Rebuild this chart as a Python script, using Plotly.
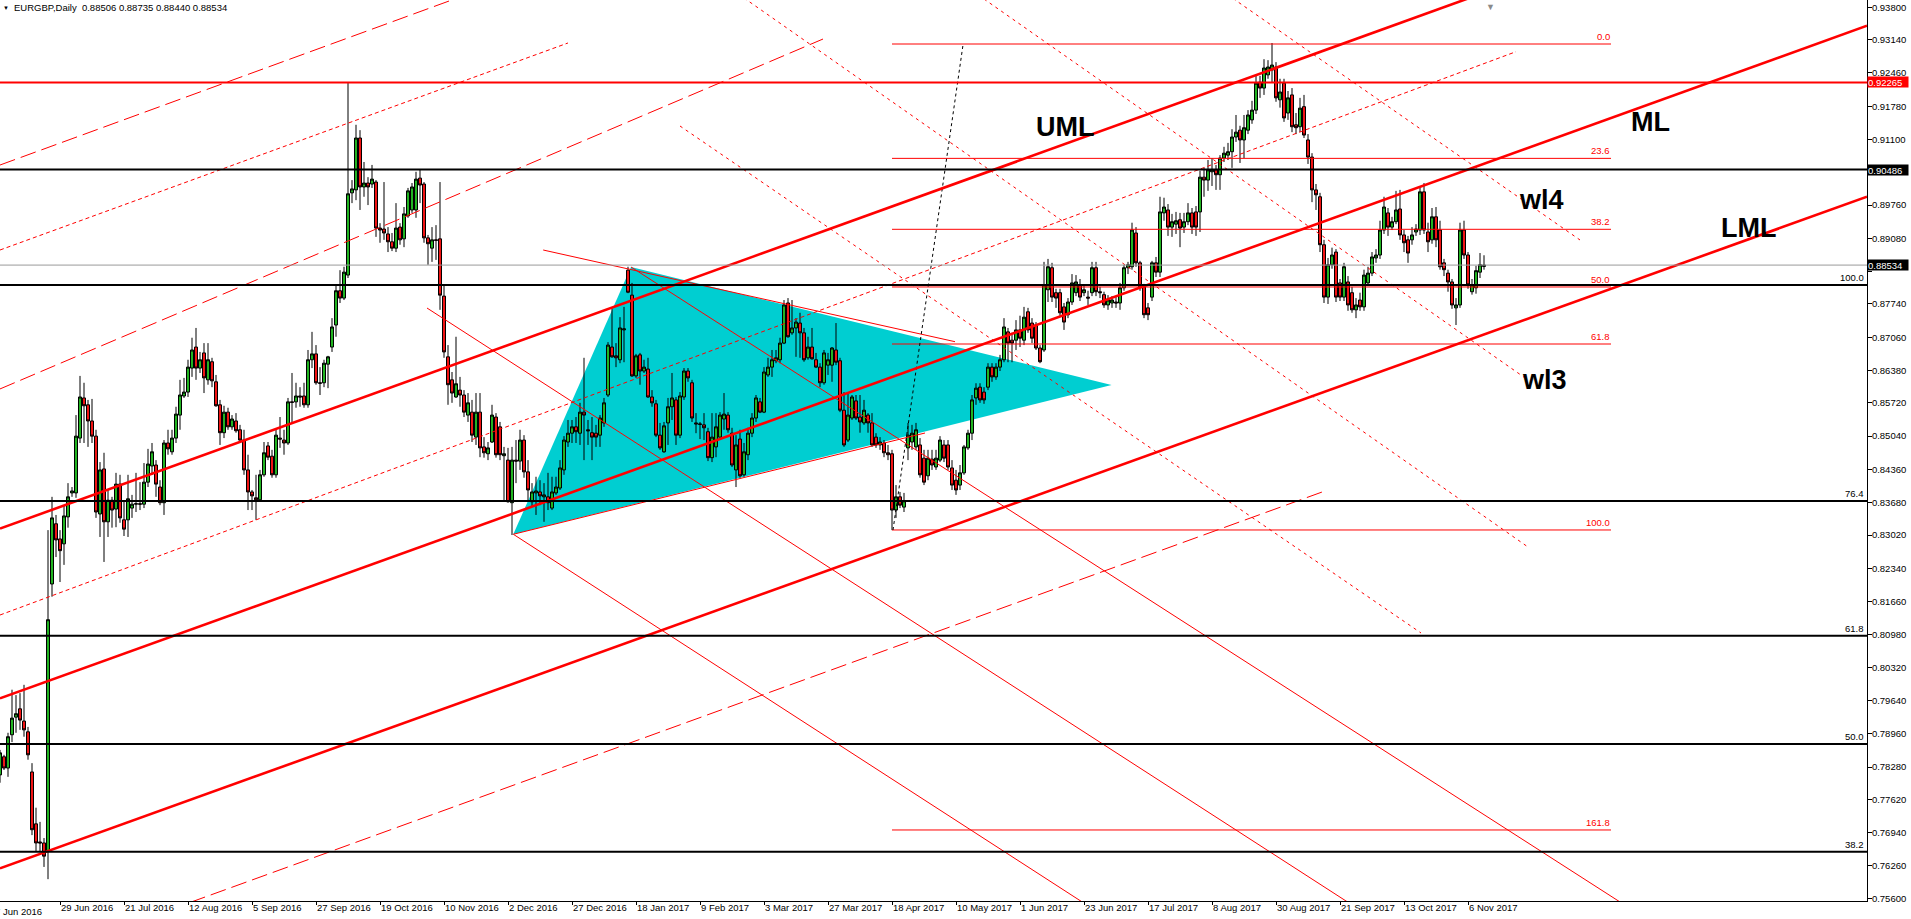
import plotly.graph_objects as go

# ---------------- candle data (EURGBP daily) ----------------
opens = [0.7812,0.7849,0.7826,0.7894,0.7930,0.7947,0.7922,0.7900,0.7818,0.7712,
 0.7675,0.7673,0.7657,0.8202,0.8325,0.8294,0.8284,0.8339,0.8388,0.8388,
 0.8500,0.8582,0.8568,0.8535,0.8504,0.8345,0.8437,0.8329,0.8373,0.8355,
 0.8406,0.8333,0.8333,0.8357,0.8365,0.8366,0.8365,0.8410,0.8443,0.8445,
 0.8400,0.8368,0.8490,0.8472,0.8500,0.8547,0.8586,0.8594,0.8643,0.8686,
 0.8643,0.8674,0.8619,0.8656,0.8615,0.8568,0.8511,0.8553,0.8523,0.8535,
 0.8517,0.8496,0.8435,0.8390,0.8378,0.8374,0.8425,0.8484,0.8463,0.8425,
 0.8500,0.8496,0.8490,0.8574,0.8574,0.8586,0.8586,0.8568,0.8660,0.8672,
 0.8613,0.8613,0.8651,0.8686,0.8731,0.8801,0.8786,0.8833,0.9001,0.9007,
 0.9113,0.9013,0.9021,0.9019,0.9023,0.8929,0.8927,0.8917,0.8901,0.8888,
 0.8931,0.8907,0.8954,0.8966,0.8966,0.9031,0.9019,0.8909,0.8888,0.8905,
 0.8907,0.8790,0.8666,0.8619,0.8584,0.8598,0.8588,0.8547,0.8553,0.8502,
 0.8553,0.8482,0.8468,0.8492,0.8543,0.8523,0.8464,0.8455,0.8368,0.8455,
 0.8453,0.8496,0.8431,0.8370,0.8388,0.8390,0.8380,0.8380,0.8357,0.8388,
 0.8398,0.8435,0.8492,0.8510,0.8523,0.8510,0.8553,0.8517,0.8511,0.8510,
 0.8506,0.8531,0.8588,0.8686,0.8668,0.8660,0.8721,0.8843,0.8792,0.8627,
 0.8670,0.8637,0.8641,0.8584,0.8570,0.8506,0.8472,0.8531,0.8564,0.8578,
 0.8506,0.8584,0.8637,0.8613,0.8531,0.8529,0.8527,0.8513,0.8460,0.8482,
 0.8502,0.8539,0.8547,0.8510,0.8435,0.8498,0.8425,0.8466,0.8510,0.8541,
 0.8574,0.8553,0.8629,0.8645,0.8658,0.8660,0.8694,0.8776,0.8715,0.8725,
 0.8735,0.8715,0.8664,0.8686,0.8660,0.8645,0.8613,0.8649,0.8649,0.8680,
 0.8658,0.8557,0.8496,0.8541,0.8576,0.8543,0.8531,0.8547,0.8531,0.8502,
 0.8486,0.8490,0.8470,0.8468,0.8353,0.8380,0.8359,0.8480,0.8492,0.8482,
 0.8486,0.8459,0.8423,0.8457,0.8441,0.8455,0.8486,0.8486,0.8439,0.8414,
 0.8404,0.8429,0.8480,0.8510,0.8582,0.8604,0.8594,0.8604,0.8645,0.8625,
 0.8645,0.8660,0.8717,0.8700,0.8700,0.8721,0.8700,0.8758,0.8735,0.8731,
 0.8684,0.8680,0.8803,0.8848,0.8797,0.8797,0.8768,0.8752,0.8778,0.8797,
 0.8813,0.8797,0.8788,0.8797,0.8848,0.8799,0.8793,0.8772,0.8776,0.8778,
 0.8776,0.8807,0.8848,0.8850,0.8919,0.8858,0.8809,0.8766,0.8788,0.8858,
 0.8839,0.8960,0.8966,0.8931,0.8937,0.8946,0.8931,0.8942,0.8960,0.8962,
 0.8962,0.9033,0.9027,0.9044,0.9048,0.9038,0.9072,0.9078,0.9085,0.9115,
 0.9129,0.9109,0.9129,0.9150,0.9170,0.9227,0.9215,0.9242,0.9252,0.9258,
 0.9191,0.9225,0.9164,0.9201,0.9140,0.9136,0.9177,0.9109,0.9074,0.9007,
 0.8993,0.8895,0.8788,0.8854,0.8880,0.8817,0.8788,0.8819,0.8797,0.8762,
 0.8782,0.8768,0.8817,0.8837,0.8868,0.8874,0.8925,0.8960,0.8931,0.8942,
 0.8968,0.8915,0.8905,0.8905,0.8921,0.8925,0.9003,0.8921,0.8905,0.8952,
 0.8925,0.8858,0.8837,0.8819,0.8766,0.8772,0.8925,0.8874,0.8799,0.8807,
 0.8839,0.88506]

highs = [0.7863,0.7853,0.7898,0.7986,0.7975,0.7979,0.7996,0.7910,0.7836,0.7745,
 0.7716,0.7683,0.8312,0.8380,0.8343,0.8312,0.8363,0.8408,0.8400,0.8547,
 0.8627,0.8613,0.8578,0.8580,0.8517,0.8451,0.8470,0.8394,0.8380,0.8429,
 0.8425,0.8373,0.8425,0.8384,0.8429,0.8410,0.8449,0.8478,0.8490,0.8455,
 0.8414,0.8496,0.8517,0.8517,0.8564,0.8619,0.8623,0.8660,0.8705,0.8725,
 0.8676,0.8694,0.8694,0.8664,0.8629,0.8578,0.8566,0.8562,0.8547,0.8551,
 0.8527,0.8517,0.8466,0.8394,0.8425,0.8435,0.8492,0.8492,0.8476,0.8517,
 0.8543,0.8517,0.8582,0.8633,0.8613,0.8604,0.8613,0.8680,0.8717,0.8690,
 0.8645,0.8660,0.8668,0.8745,0.8813,0.8843,0.8850,0.9227,0.9027,0.9140,
 0.9129,0.9064,0.9033,0.9058,0.9027,0.8939,0.9023,0.8931,0.8919,0.8980,
 0.8939,0.8972,0.9011,0.9021,0.9044,0.9048,0.9023,0.8915,0.8931,0.8935,
 0.9023,0.8813,0.8690,0.8635,0.8707,0.8625,0.8598,0.8592,0.8578,0.8592,
 0.8592,0.8502,0.8492,0.8568,0.8551,0.8533,0.8482,0.8480,0.8482,0.8496,
 0.8517,0.8506,0.8455,0.8408,0.8421,0.8414,0.8408,0.8429,0.8421,0.8421,
 0.8455,0.8504,0.8537,0.8537,0.8543,0.8572,0.8664,0.8537,0.8543,0.8527,
 0.8547,0.8582,0.8696,0.8766,0.8694,0.8747,0.8768,0.8850,0.8817,0.8672,
 0.8674,0.8660,0.8664,0.8598,0.8578,0.8531,0.8533,0.8582,0.8633,0.8584,
 0.8594,0.8643,0.8643,0.8619,0.8551,0.8533,0.8551,0.8521,0.8551,0.8551,
 0.8553,0.8592,0.8553,0.8521,0.8506,0.8517,0.8490,0.8521,0.8551,0.8588,
 0.8582,0.8645,0.8664,0.8680,0.8680,0.8705,0.8782,0.8786,0.8782,0.8745,
 0.8756,0.8725,0.8707,0.8725,0.8674,0.8653,0.8680,0.8674,0.8686,0.8735,
 0.8664,0.8594,0.8592,0.8588,0.8588,0.8588,0.8578,0.8551,0.8551,0.8510,
 0.8502,0.8496,0.8486,0.8476,0.8404,0.8390,0.8388,0.8531,0.8527,0.8531,
 0.8500,0.8476,0.8476,0.8476,0.8476,0.8504,0.8496,0.8496,0.8455,0.8435,
 0.8445,0.8486,0.8517,0.8588,0.8612,0.8612,0.8604,0.8653,0.8653,0.8653,
 0.8670,0.8745,0.8725,0.8715,0.8741,0.8750,0.8768,0.8766,0.8745,0.8737,
 0.8690,0.8860,0.8866,0.8858,0.8805,0.8805,0.8776,0.8786,0.8835,0.8833,
 0.8825,0.8813,0.8801,0.8860,0.8860,0.8809,0.8799,0.8792,0.8790,0.8788,
 0.8817,0.8854,0.8860,0.8940,0.8931,0.8862,0.8815,0.8776,0.8862,0.8870,
 0.8993,0.8991,0.8978,0.8958,0.8962,0.8960,0.8960,0.8980,0.8970,0.8974,
 0.9046,0.9052,0.9068,0.9072,0.9058,0.9078,0.9095,0.9103,0.9131,0.9160,
 0.9138,0.9160,0.9170,0.9189,0.9240,0.9240,0.9274,0.9272,0.9307,0.9268,
 0.9234,0.9234,0.9209,0.9215,0.9164,0.9195,0.9201,0.9121,0.9082,0.9019,
 0.9001,0.8905,0.8868,0.8889,0.8886,0.8825,0.8858,0.8831,0.8809,0.8786,
 0.8797,0.8844,0.8850,0.8880,0.8886,0.8944,0.8993,0.8970,0.8952,0.9005,
 0.9007,0.8925,0.8913,0.8931,0.8937,0.9011,0.9021,0.8940,0.8970,0.8972,
 0.8944,0.8866,0.8844,0.8825,0.8786,0.8940,0.8944,0.8880,0.8825,0.8852,
 0.8878,0.88735]

lows = [0.7796,0.7822,0.7808,0.7879,0.7898,0.7904,0.7890,0.7843,0.7689,0.7655,
 0.7655,0.7624,0.7599,0.8176,0.8257,0.8206,0.8241,0.8317,0.8380,0.8378,
 0.8490,0.8490,0.8482,0.8490,0.8337,0.8298,0.8247,0.8298,0.8317,0.8318,
 0.8327,0.8300,0.8298,0.8337,0.8349,0.8353,0.8357,0.8400,0.8425,0.8380,
 0.8363,0.8343,0.8466,0.8466,0.8490,0.8517,0.8582,0.8584,0.8625,0.8619,
 0.8633,0.8592,0.8609,0.8604,0.8564,0.8486,0.8500,0.8517,0.8517,0.8511,
 0.8490,0.8425,0.8353,0.8353,0.8333,0.8370,0.8421,0.8455,0.8419,0.8419,
 0.8480,0.8466,0.8486,0.8531,0.8562,0.8564,0.8562,0.8562,0.8643,0.8609,
 0.8588,0.8604,0.8602,0.8676,0.8707,0.8776,0.8782,0.8827,0.8980,0.8986,
 0.8966,0.8993,0.8976,0.9011,0.8911,0.8899,0.8905,0.8880,0.8882,0.8880,
 0.8895,0.8890,0.8950,0.8960,0.8950,0.8980,0.8899,0.8854,0.8860,0.8864,
 0.8762,0.8664,0.8568,0.8572,0.8582,0.8564,0.8543,0.8533,0.8492,0.8486,
 0.8461,0.8460,0.8455,0.8490,0.8460,0.8455,0.8370,0.8368,0.8302,0.8408,
 0.8435,0.8419,0.8373,0.8359,0.8343,0.8363,0.8329,0.8353,0.8353,0.8384,
 0.8394,0.8425,0.8482,0.8490,0.8490,0.8486,0.8455,0.8486,0.8455,0.8482,
 0.8482,0.8523,0.8584,0.8664,0.8645,0.8653,0.8655,0.8796,0.8625,0.8623,
 0.8609,0.8633,0.8582,0.8564,0.8502,0.8476,0.8470,0.8486,0.8537,0.8486,
 0.8500,0.8578,0.8615,0.8533,0.8510,0.8498,0.8496,0.8453,0.8451,0.8461,
 0.8500,0.8517,0.8511,0.8441,0.8400,0.8419,0.8421,0.8455,0.8502,0.8533,
 0.8551,0.8551,0.8625,0.8625,0.8653,0.8653,0.8692,0.8705,0.8711,0.8666,
 0.8664,0.8656,0.8660,0.8660,0.8643,0.8604,0.8609,0.8629,0.8615,0.8649,
 0.8553,0.8482,0.8492,0.8537,0.8537,0.8511,0.8527,0.8511,0.8482,0.8480,
 0.8476,0.8461,0.8455,0.8312,0.8337,0.8357,0.8349,0.8455,0.8476,0.8476,
 0.8419,0.8404,0.8414,0.8435,0.8435,0.8451,0.8451,0.8435,0.8394,0.8384,
 0.8394,0.8425,0.8476,0.8496,0.8568,0.8572,0.8570,0.8598,0.8615,0.8619,
 0.8637,0.8655,0.8655,0.8655,0.8680,0.8686,0.8690,0.8715,0.8694,0.8680,
 0.8653,0.8676,0.8778,0.8778,0.8766,0.8750,0.8721,0.8745,0.8772,0.8790,
 0.8780,0.8790,0.8772,0.8790,0.8790,0.8786,0.8766,0.8762,0.8766,0.8766,
 0.8762,0.8801,0.8835,0.8844,0.8850,0.8801,0.8745,0.8741,0.8780,0.8829,
 0.8829,0.8944,0.8913,0.8911,0.8917,0.8890,0.8919,0.8935,0.8917,0.8913,
 0.8921,0.8993,0.9005,0.9015,0.9007,0.9007,0.9064,0.9068,0.9052,0.9105,
 0.9062,0.9072,0.9121,0.9142,0.9162,0.9195,0.9201,0.9234,0.9227,0.9187,
 0.9175,0.9146,0.9150,0.9125,0.9121,0.9125,0.9113,0.9060,0.8982,0.8966,
 0.8880,0.8776,0.8774,0.8846,0.8778,0.8780,0.8780,0.8760,0.8756,0.8745,
 0.8760,0.8760,0.8811,0.8831,0.8858,0.8866,0.8917,0.8913,0.8925,0.8937,
 0.8905,0.8880,0.8858,0.8895,0.8913,0.8915,0.8917,0.8880,0.8897,0.8890,
 0.8844,0.8831,0.8799,0.8764,0.8731,0.8766,0.8866,0.8805,0.8793,0.8795,
 0.8827,0.88440]

closes = [0.7857,0.7826,0.7890,0.7928,0.7937,0.7924,0.7904,0.7853,0.7700,0.7673,
 0.7673,0.7646,0.8129,0.8337,0.8292,0.8270,0.8341,0.8380,0.8392,0.8504,
 0.8584,0.8566,0.8535,0.8504,0.8349,0.8435,0.8329,0.8373,0.8353,0.8406,
 0.8337,0.8314,0.8376,0.8365,0.8366,0.8365,0.8410,0.8447,0.8472,0.8406,
 0.8368,0.8490,0.8478,0.8500,0.8549,0.8588,0.8594,0.8645,0.8680,0.8643,
 0.8660,0.8623,0.8660,0.8617,0.8566,0.8511,0.8553,0.8523,0.8539,0.8515,
 0.8496,0.8435,0.8390,0.8382,0.8374,0.8425,0.8470,0.8461,0.8425,0.8506,
 0.8498,0.8490,0.8574,0.8573,0.8586,0.8584,0.8568,0.8660,0.8672,0.8613,
 0.8612,0.8653,0.8666,0.8727,0.8801,0.8786,0.8839,0.8999,0.9009,0.9113,
 0.9013,0.9021,0.9013,0.9029,0.8929,0.8925,0.8919,0.8901,0.8888,0.8929,
 0.8905,0.8958,0.9005,0.9013,0.9029,0.9017,0.8909,0.8897,0.8905,0.8904,
 0.8792,0.8676,0.8609,0.8592,0.8611,0.8588,0.8553,0.8572,0.8506,0.8553,
 0.8480,0.8470,0.8480,0.8547,0.8466,0.8466,0.8468,0.8370,0.8455,0.8453,
 0.8496,0.8431,0.8394,0.8390,0.8392,0.8382,0.8384,0.8368,0.8390,0.8400,
 0.8439,0.8496,0.8510,0.8523,0.8513,0.8553,0.8547,0.8515,0.8502,0.8502,
 0.8541,0.8572,0.8690,0.8666,0.8664,0.8725,0.8723,0.8798,0.8627,0.8668,
 0.8637,0.8645,0.8584,0.8572,0.8506,0.8480,0.8525,0.8564,0.8582,0.8506,
 0.8586,0.8637,0.8623,0.8541,0.8529,0.8528,0.8521,0.8460,0.8502,0.8523,
 0.8547,0.8549,0.8517,0.8445,0.8486,0.8423,0.8472,0.8510,0.8541,0.8582,
 0.8553,0.8635,0.8645,0.8660,0.8664,0.8694,0.8772,0.8707,0.8725,0.8737,
 0.8715,0.8660,0.8686,0.8662,0.8645,0.8613,0.8674,0.8660,0.8684,0.8655,
 0.8557,0.8486,0.8547,0.8584,0.8541,0.8533,0.8557,0.8531,0.8486,0.8486,
 0.8492,0.8470,0.8466,0.8353,0.8380,0.8363,0.8372,0.8506,0.8510,0.8517,
 0.8425,0.8410,0.8459,0.8445,0.8459,0.8496,0.8459,0.8441,0.8404,0.8394,
 0.8429,0.8482,0.8510,0.8578,0.8602,0.8578,0.8578,0.8645,0.8625,0.8645,
 0.8660,0.8727,0.8694,0.8694,0.8721,0.8704,0.8747,0.8721,0.8704,0.8684,
 0.8656,0.8813,0.8850,0.8788,0.8786,0.8756,0.8737,0.8778,0.8817,0.8819,
 0.8788,0.8803,0.8786,0.8848,0.8799,0.8797,0.8772,0.8782,0.8782,0.8776,
 0.8807,0.8848,0.8854,0.8925,0.8858,0.8809,0.8752,0.8752,0.8858,0.8839,
 0.8962,0.8972,0.8931,0.8942,0.8944,0.8929,0.8942,0.8960,0.8931,0.8931,
 0.9033,0.9027,0.9048,0.9048,0.9038,0.9072,0.9082,0.9085,0.9115,0.9125,
 0.9109,0.9134,0.9160,0.9170,0.9225,0.9215,0.9256,0.9258,0.9262,0.9195,
 0.9207,0.9154,0.9195,0.9136,0.9134,0.9174,0.9119,0.9074,0.9007,0.8997,
 0.8895,0.8788,0.8854,0.8874,0.8788,0.8788,0.8850,0.8772,0.8762,0.8772,
 0.8768,0.8833,0.8837,0.8870,0.8874,0.8925,0.8972,0.8931,0.8942,0.8966,
 0.8915,0.8899,0.8878,0.8915,0.8927,0.9003,0.8925,0.8901,0.8952,0.8905,
 0.8850,0.8844,0.8819,0.8772,0.8772,0.8925,0.8874,0.8813,0.8813,0.8842,
 0.8854,0.88534]

bars = list(range(len(opens)))

# ---------------- axes ----------------
date_tick_bars = [15, 31, 47, 63, 79, 95, 111, 127, 143, 159, 175, 191, 207,
                  223, 239, 255, 271, 287, 303, 319, 335, 351, 367]
date_tick_labels = ["29 Jun 2016", "21 Jul 2016", "12 Aug 2016", "5 Sep 2016",
                    "27 Sep 2016", "19 Oct 2016", "10 Nov 2016", "2 Dec 2016",
                    "27 Dec 2016", "18 Jan 2017", "9 Feb 2017", "3 Mar 2017",
                    "27 Mar 2017", "18 Apr 2017", "10 May 2017", "1 Jun 2017",
                    "23 Jun 2017", "17 Jul 2017", "8 Aug 2017", "30 Aug 2017",
                    "21 Sep 2017", "13 Oct 2017", "6 Nov 2017"]
first_partial_label = "7 Jun 2016"

price_ticks = [0.93800, 0.93140, 0.92460, 0.91780, 0.91100, 0.90420, 0.89760,
               0.89080, 0.88400, 0.87740, 0.87060, 0.86380, 0.85720, 0.85040,
               0.84360, 0.83680, 0.83020, 0.82340, 0.81660, 0.80980, 0.80320,
               0.79640, 0.78960, 0.78280, 0.77620, 0.76940, 0.76260, 0.75600]
# the labels of 0.90420 and 0.88400 are covered by price boxes in the original
hidden_price_ticks = [0.90420, 0.88400]
price_tick_labels = ["" if v in hidden_price_ticks else "%.5f" % v for v in price_ticks]

x_range = [0, 466.75]
y_range = [0.75544, 0.93949]

# ---------------- drawn objects ----------------
level_red = 0.92265
level_black = 0.90486
last_price = 0.88534

black_fib_prices = [0.88128, 0.83715, 0.80964, 0.78752, 0.76552]
black_fib_labels = ["100.0", "76.4", "61.8", "50.0", "38.2"]

red_fib_prices = [0.93050, 0.90714, 0.89265, 0.88087, 0.86922, 0.83123, 0.76995]
red_fib_labels = ["0.0", "23.6", "38.2", "50.0", "61.8", "100.0", "161.8"]
red_fib_bars = [223, 402.75]
fib_trend_bars = [223.25, 240.75]
fib_trend_prices = [0.83123, 0.93030]

# pitchfork (bar, price) anchors
uml_bars, uml_prices = [0, 466.75], [0.83151, 0.96923]
ml_bars, ml_prices = [0, 466.75], [0.79685, 0.93424]
lml_bars, lml_prices = [0, 466.75], [0.76212, 0.89931]

# dashed / dotted parallels
d1_bars, d1_prices = [0, 115], [0.90578, 0.94010]
d2_bars, d2_prices = [0, 205.75], [0.86004, 0.93152]
d3_bars, d3_prices = [47.5, 330.75], [0.75514, 0.83905]
do1_bars, do1_prices = [0, 142], [0.88842, 0.93071]
do2_bars, do2_prices = [0, 379], [0.81386, 0.92893]

# solid thin down-sloping lines
t1_bars, t1_prices = [128.33, 275], [0.83035, 0.75289]
t2_bars, t2_prices = [106.75, 340], [0.87657, 0.75360]
t3_bars, t3_prices = [157.75, 405], [0.88495, 0.75524]
s1_bars, s1_prices = [135.8, 238.75], [0.88842, 0.86969]
s2_bars, s2_prices = [128.33, 231.25], [0.83035, 0.85104]

# triangle
tri_bars = [128.33, 157.75, 277.9]
tri_prices = [0.83035, 0.88495, 0.86085]

# dotted warning lines
la_bars, la_prices = [170, 355.25], [0.91375, 0.81019]
r_bars, r_prices = [186, 382], [0.93990, 0.82775]
p_bars, p_prices = [246, 382], [0.93969, 0.86187]
q_bars, q_prices = [308.25, 395], [0.93980, 0.89047]

# text labels (bar, price)
text_labels = ["UML", "ML", "wl4", "LML", "wl3"]
text_bars = [266.25, 412.5, 385.25, 437, 386]
text_prices = [0.91355, 0.91457, 0.89864, 0.89292, 0.86187]

title_text = "EURGBP,Daily  0.88506 0.88735 0.88440 0.88534"

FONT = "Liberation Sans, Arial, sans-serif"
RED = "#ff0000"

fig = go.Figure()

fig.add_trace(go.Candlestick(
    x=bars, open=opens, high=highs, low=lows, close=closes,
    increasing=dict(fillcolor="#22b422", line=dict(color="black", width=1)),
    decreasing=dict(fillcolor="#f01414", line=dict(color="black", width=1)),
    whiskerwidth=0, showlegend=False, hoverinfo="skip"))


def add_line(xs, ys, color=RED, width=1, dash="solid"):
    fig.add_trace(go.Scatter(x=xs, y=ys, mode="lines",
                             line=dict(color=color, width=width, dash=dash),
                             hoverinfo="skip", showlegend=False))


# thin solid red diagonals
for xs, ys in [(t1_bars, t1_prices), (t2_bars, t2_prices), (t3_bars, t3_prices),
               (s1_bars, s1_prices), (s2_bars, s2_prices)]:
    add_line(xs, ys, width=1)

# dashed parallels
for xs, ys in [(d1_bars, d1_prices), (d2_bars, d2_prices), (d3_bars, d3_prices)]:
    add_line(xs, ys, width=1, dash="16px,6px")
for xs, ys in [(do1_bars, do1_prices), (do2_bars, do2_prices)]:
    add_line(xs, ys, width=1, dash="4px,3px")
for xs, ys in [(la_bars, la_prices), (r_bars, r_prices), (p_bars, p_prices), (q_bars, q_prices)]:
    add_line(xs, ys, width=1, dash="3px,4px")

# red fib retracement
for pr in red_fib_prices:
    add_line(red_fib_bars, [pr, pr], width=1)
add_line(fib_trend_bars, fib_trend_prices, color="black", width=1, dash="3px,3px")

# pitchfork
for xs, ys in [(uml_bars, uml_prices), (ml_bars, ml_prices), (lml_bars, lml_prices)]:
    add_line(xs, ys, width=2.6)

shapes = []
tri_path = "M {},{} L {},{} L {},{} Z".format(tri_bars[0], tri_prices[0], tri_bars[1], tri_prices[1],
                                              tri_bars[2], tri_prices[2])
shapes.append(dict(type="path", xref="x", yref="y", path=tri_path, layer="below",
                   fillcolor="#00CED1", line=dict(width=0)))
shapes.append(dict(type="line", xref="paper", x0=0, x1=1, yref="y", y0=last_price, y1=last_price,
                   line=dict(color="#9a9a9a", width=1)))
shapes.append(dict(type="line", xref="paper", x0=0, x1=1, yref="y", y0=level_red, y1=level_red,
                   line=dict(color=RED, width=2)))
shapes.append(dict(type="line", xref="paper", x0=0, x1=1, yref="y", y0=level_black, y1=level_black,
                   line=dict(color="black", width=2)))
for pr in black_fib_prices:
    shapes.append(dict(type="line", xref="paper", x0=0, x1=1, yref="y", y0=pr, y1=pr,
                       line=dict(color="black", width=2)))

annotations = []
for lab, pr in zip(red_fib_labels, red_fib_prices):
    annotations.append(dict(x=red_fib_bars[1], y=pr, xref="x", yref="y", text=lab,
                            showarrow=False, xanchor="right", yanchor="bottom",
                            font=dict(family=FONT, size=9.5, color=RED), borderpad=0, yshift=1))
for lab, pr in zip(black_fib_labels, black_fib_prices):
    annotations.append(dict(x=0.9989, y=pr, xref="paper", yref="y", text=lab,
                            showarrow=False, xanchor="right", yanchor="bottom",
                            font=dict(family=FONT, size=9.5, color="black"), borderpad=0, yshift=1))
for lab, b, pr in zip(text_labels, text_bars, text_prices):
    annotations.append(dict(x=b, y=pr, xref="x", yref="y", text="<b>%s</b>" % lab,
                            showarrow=False, xanchor="center", yanchor="middle",
                            font=dict(family=FONT, size=27, color="black")))
for pr, bg in [(level_red, RED), (level_black, "black"), (last_price, "black")]:
    annotations.append(dict(x=1, y=pr, xref="paper", yref="y", text="%.5f" % pr,
                            showarrow=False, xanchor="left", yanchor="middle", xshift=0,
                            bgcolor=bg, width=40, height=10, align="left", borderpad=0,
                            font=dict(family=FONT, size=9.5, color="white")))
annotations.append(dict(x=12 / 1867, y=1 - 8 / 901, xref="paper", yref="paper", text=title_text,
                        showarrow=False, xanchor="left", yanchor="middle",
                        font=dict(family=FONT, size=9.5, color="black")))
annotations.append(dict(x=1 / 1867, y=1 - 8 / 901, xref="paper", yref="paper", text="▼",
                        showarrow=False, xanchor="left", yanchor="middle",
                        font=dict(family=FONT, size=6, color="black")))
annotations.append(dict(x=1490 / 1867, y=1, xref="paper", yref="paper", text="▼",
                        showarrow=False, xanchor="center", yanchor="top",
                        font=dict(family=FONT, size=9, color="#8a8a8a")))
annotations.append(dict(x=-7 / 1867, y=0, xref="paper", yref="paper", text=first_partial_label,
                        showarrow=False, xanchor="left", yanchor="top", yshift=-3,
                        font=dict(family=FONT, size=9.5, color="black")))

fig.update_layout(
    width=1911, height=919,
    margin=dict(l=0, r=44, t=0, b=18, autoexpand=False),
    paper_bgcolor="white", plot_bgcolor="white",
    boxgap=0.25, boxgroupgap=0,
    shapes=shapes, annotations=annotations,
    showlegend=False,
    font=dict(family=FONT, size=9.5, color="black"),
    xaxis=dict(range=x_range, showgrid=False, zeroline=False,
               tickmode="array", tickvals=date_tick_bars, ticktext=date_tick_labels,
               ticks="outside", ticklen=3, tickcolor="black",
               showline=True, linecolor="black", linewidth=1, mirror=True,
               ticklabelposition="outside right", ticklabelstandoff=-2,
               tickfont=dict(family=FONT, size=9.5, color="black"),
               rangeslider=dict(visible=False), fixedrange=True),
    yaxis=dict(range=y_range, side="right", showgrid=False, zeroline=False,
               tickmode="array", tickvals=price_ticks, ticktext=price_tick_labels,
               ticks="outside", ticklen=4, tickcolor="black",
               showline=True, linecolor="black", linewidth=1, ticklabelstandoff=-2,
               tickfont=dict(family=FONT, size=9.5, color="black"), fixedrange=True),
)

fig.write_html("out.html", config={"displayModeBar": False},
               post_script="document.body.style.margin='0px';document.body.style.overflow='hidden';")
